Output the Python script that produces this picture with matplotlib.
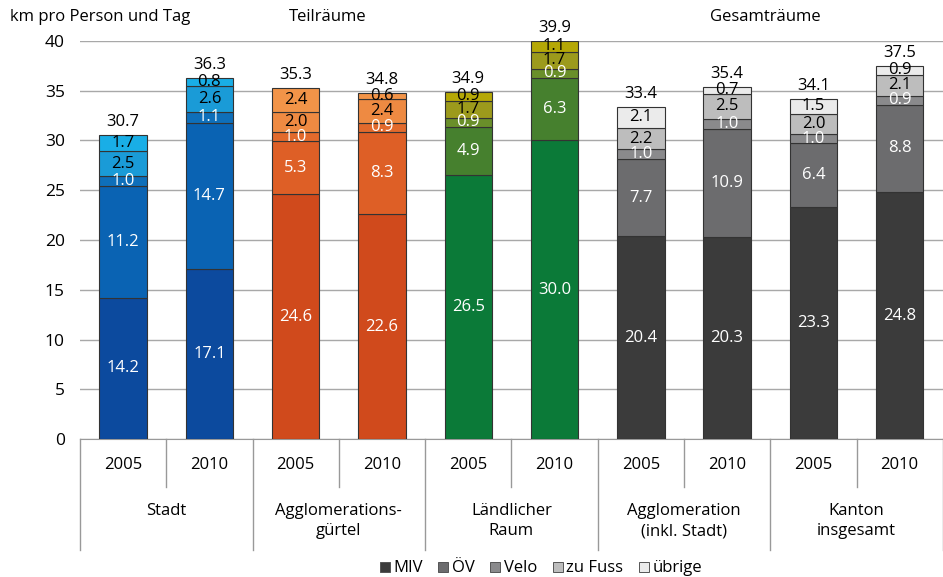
import matplotlib
matplotlib.use("Agg")
import matplotlib.pyplot as plt
from matplotlib.lines import Line2D
import matplotlib.transforms as mtransforms

plt.rcParams['font.family'] = ['Open Sans', 'DejaVu Sans']

# data
groups = ["Stadt", "Agglomerations-\ngürtel", "Ländlicher\nRaum",
          "Agglomeration\n(inkl. Stadt)", "Kanton\ninsgesamt"]
years = ["2005", "2010"]
modes = ["MIV", "ÖV", "Velo", "zu Fuss", "übrige"]

miv = [14.2, 17.1, 24.6, 22.6, 26.5, 30.0, 20.4, 20.3, 23.3, 24.8]
oev = [11.2, 14.7, 5.3, 8.3, 4.9, 6.3, 7.7, 10.9, 6.4, 8.8]
velo = [1.0, 1.1, 1.0, 0.9, 0.9, 0.9, 1.0, 1.0, 1.0, 0.9]
fuss = [2.5, 2.6, 2.0, 2.4, 1.7, 1.7, 2.2, 2.5, 2.0, 2.1]
uebrige = [1.7, 0.8, 2.4, 0.6, 0.9, 1.1, 2.1, 0.7, 1.5, 0.9]
totals = [30.7, 36.3, 35.3, 34.8, 34.9, 39.9, 33.4, 35.4, 34.1, 37.5]

# colour sets per group (MIV, ÖV, Velo, zu Fuss, übrige)
palettes = [
    ["#0c4a9e", "#0a63b3", "#0e6fba", "#1a9bd7", "#19aee6"],
    ["#d04a1c", "#de5f26", "#e26a2c", "#ee8a42", "#f29448"],
    ["#0b7a38", "#46802e", "#6a8f2a", "#9c9a1c", "#b5a806"],
    ["#3b3b3b", "#6c6c6e", "#8a8a8c", "#bdbdbd", "#ebebeb"],
    ["#3b3b3b", "#6c6c6e", "#8a8a8c", "#bdbdbd", "#ebebeb"],
]
legend_colors = ["#3b3b3b", "#6c6c6e", "#8a8a8c", "#bdbdbd", "#ebebeb"]
text_colors = ["white", "white", "white", "black", "black"]

fig = plt.figure(figsize=(9.43, 5.77), dpi=100)
ax = fig.add_axes([0.0848, 0.239, 0.915, 0.690])

series = [miv, oev, velo, fuss, uebrige]
xs = list(range(len(miv)))
width = 0.55
bottoms = [0.0] * len(xs)
for k, vals in enumerate(series):
    cols = [palettes[i // 2][k] for i in xs]
    ax.bar(xs, vals, width, bottom=bottoms, color=cols, edgecolor="#333333",
           linewidth=0.8, zorder=3)
    for i in xs:
        ax.text(i, bottoms[i] + vals[i] / 2, f"{vals[i]:.1f}", ha="center", va="center",
                color=text_colors[k], fontsize=12, zorder=4)
    bottoms = [b + v for b, v in zip(bottoms, vals)]

for i in xs:
    ax.text(i, bottoms[i] + 0.45, f"{totals[i]:.1f}", ha="center", va="bottom",
            fontsize=12, color="black")

ax.set_xlim(-0.5, 9.5)
ax.set_ylim(0, 40)
ax.set_yticks(range(0, 41, 5))
ax.tick_params(axis="y", length=0, labelsize=12.5, pad=11)
ax.set_xticks([])
for s in ["left", "right", "top"]:
    ax.spines[s].set_visible(False)
ax.spines["bottom"].set_color("#999999")
ax.yaxis.grid(True, color="#a8a8a8", linewidth=1.0, zorder=0)
ax.set_axisbelow(True)

# category axis below the bars
trans = mtransforms.blended_transform_factory(ax.transData, ax.transAxes)
for xv in [-0.5, 1.5, 3.5, 5.5, 7.5, 9.5]:
    ax.add_line(Line2D([xv, xv], [0, -0.279], transform=trans, color="#999999",
                       linewidth=1.0, clip_on=False))
for xv in [0.5, 2.5, 4.5, 6.5, 8.5]:
    ax.add_line(Line2D([xv, xv], [0, -0.121], transform=trans, color="#999999",
                       linewidth=1.0, clip_on=False))
for i in xs:
    ax.text(i, -0.065, years[i % 2], transform=trans, ha="center", va="center",
            fontsize=12)
for g, name in enumerate(groups):
    ax.text(2 * g + 0.5, -0.161, name, transform=trans, ha="center", va="top",
            fontsize=12, linespacing=1.35)

fig.text(0.011, 0.97, "km pro Person und Tag", ha="left", va="center", fontsize=12)
fig.text(0.348, 0.97, "Teilräume", ha="center", va="center", fontsize=12)
fig.text(0.812, 0.97, "Gesamträume", ha="center", va="center", fontsize=12)

handles = [Line2D([], [], marker="s", linestyle="none", markersize=6.5,
                  markerfacecolor=c, markeredgecolor="#555555", markeredgewidth=0.7)
           for c in legend_colors]
fig.legend(handles, modes, loc="center", bbox_to_anchor=(0.573, 0.015), ncol=5,
           frameon=False, fontsize=12, handlelength=0.7, handletextpad=0.15,
           columnspacing=0.9, borderpad=0)

fig.savefig("out.png", dpi=100)
